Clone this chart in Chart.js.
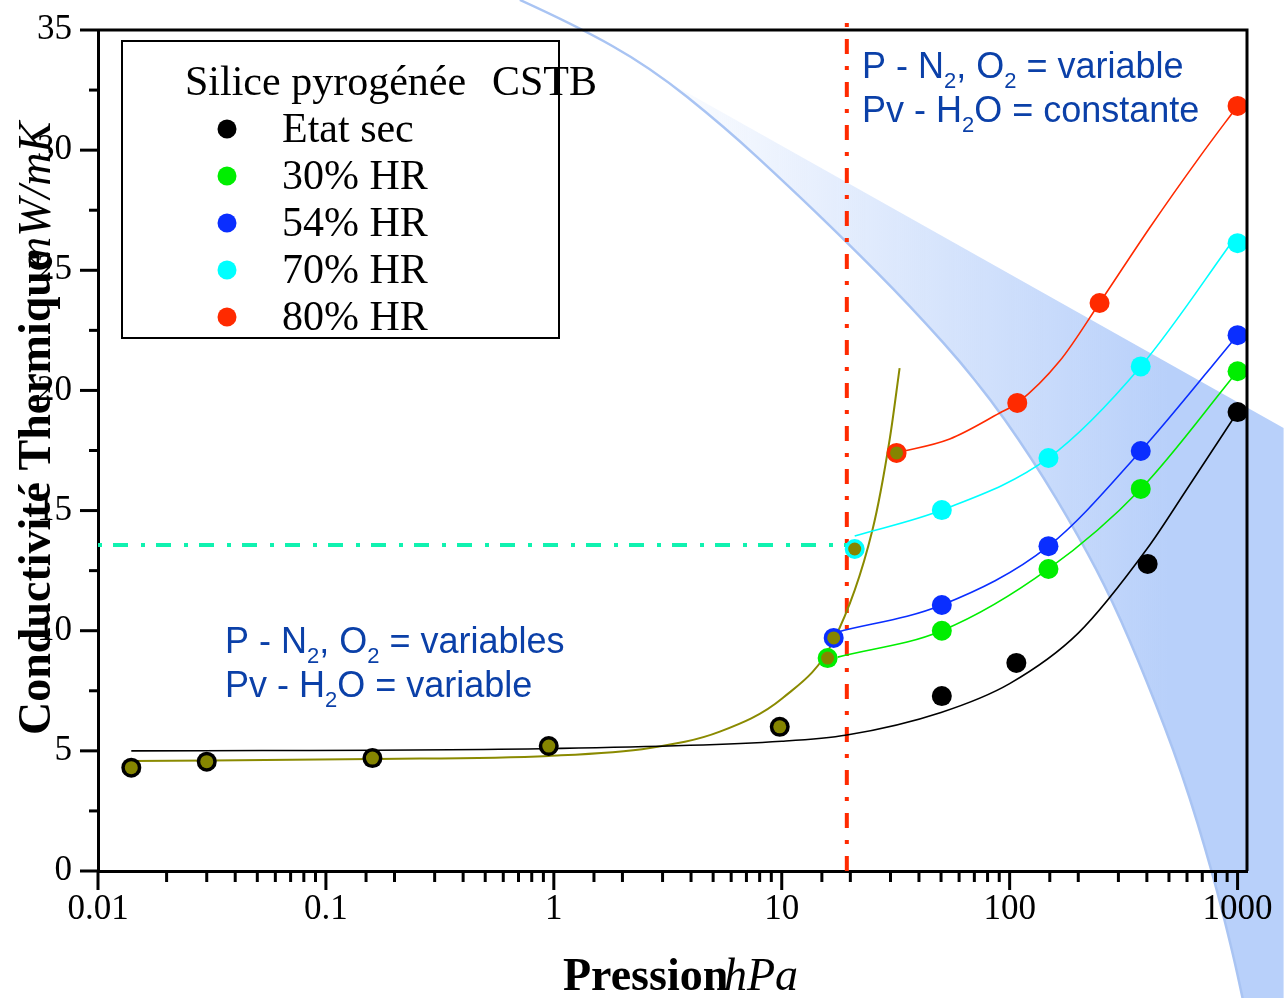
<!DOCTYPE html>
<html lang="fr">
<head>
<meta charset="UTF-8">
<title>Conductivité thermique - silice pyrogénée CSTB</title>
<script src="https://cdn.jsdelivr.net/npm/chart.js"></script>
<style>
	body { margin: 0; background: #fff; }
	canvas { display: block; }
</style>
</head>
<body>
<canvas id="graphique" width="1284" height="998"></canvas>
<script>
	const secX = [0.014, 0.03, 0.16, 0.95, 9.8, 50.4, 107, 403, 1000];
	const secY = [4.3, 4.55, 4.7, 5.2, 6.0, 7.28, 8.66, 12.78, 19.1];
	const hr30X = [15.9, 50.4, 148, 376, 1000];
	const hr30Y = [8.86, 10.0, 12.57, 15.9, 20.8];
	const hr54X = [16.9, 50.4, 148, 376, 1000];
	const hr54Y = [9.7, 11.07, 13.52, 17.48, 22.3];
	const hr70X = [20.9, 50.4, 148, 376, 1000];
	const hr70Y = [13.4, 15.02, 17.19, 21.0, 26.13];
	const hr80X = [31.9, 108, 248, 1000];
	const hr80Y = [17.4, 19.48, 23.64, 31.84];
	// Pv - H2O variable (points olive)
	const pvX = [0.014, 0.03, 0.16, 0.95, 9.8, 15.9, 16.9, 20.9, 31.9];
	const pvY = [4.3, 4.55, 4.7, 5.2, 6.0, 8.86, 9.7, 13.4, 17.4];

	// courbes d'ajustement
	const fitSecX = [0.014, 1, 10, 19.3, 50, 100, 200, 400, 600, 1000];
	const fitSecY = [5.0, 5.1, 5.4, 5.66, 6.6, 7.8, 9.9, 13.4, 15.9, 19.1];
	const fitPvX = [0.014, 0.16, 0.95, 2.64, 5.35, 10.1, 16.9, 25.0, 29.8, 32.9];
	const fitPvY = [4.58, 4.66, 4.79, 5.12, 5.8, 7.2, 9.6, 14.19, 18.0, 20.93];
	const fit30X = [17.6, 50.4, 148, 376, 1000];
	const fit30Y = [8.9, 10.0, 12.57, 15.9, 20.8];
	const fit54X = [17.6, 50.4, 148, 376, 1000];
	const fit54Y = [9.95, 11.07, 13.52, 17.48, 22.3];
	const fit70X = [20.9, 50.4, 148, 376, 1000];
	const fit70Y = [13.94, 15.02, 17.19, 21.0, 26.5];
	const fit80X = [31.9, 54.6, 90.4, 108.4, 165.7, 248, 411, 681, 1000];
	const fit80Y = [17.4, 17.98, 19.06, 19.48, 21.22, 23.64, 26.76, 29.71, 31.84];

	// repères
	const seuilX = [19.3, 19.3];
	const seuilY = [0, 35.4];
	const niveauX = [0.01, 19.3];
	const niveauY = [13.57, 13.57];

	const xTicksMin = 0.01, xTicksMax = 1100;
	const yTicksMin = 0, yTicksMax = 35, yStep = 5;

	const legendeNoms = ['Etat sec', '30% HR', '54% HR', '70% HR', '80% HR'];
	const legendeCouleurs = ['#000000', '#00ee00', '#0a2eff', '#00ffff', '#ff2a00'];
	const olive = '#858500';

	// zone bleue (décor), en coordonnées des axes
	const bandeX = [0.7096, 1.236, 2.637, 5.62, 10.84, 18.9, 36.4, 71.7, 126, 203, 283, 399, 574, 777, 951, 1052];
	const bandeY = [36.25, 35.21, 33.46, 30.96, 28.46, 26.26, 23.55, 20.43, 17.15, 13.86, 11.24, 7.95, 4.04, -0.08, -3.37, -5.29];
	const bandeSommet = [2.384, 33.5];
	const bandeBord = [1592, 18.44];
	const bandeCoin = [1592, -5.29];

	function pts(xs, ys) {
		return xs.map((x, i) => ({ x: x, y: ys[i] }));
	}

	function courbeLisse(ctx, p) {
		ctx.moveTo(p[0][0], p[0][1]);
		for (var i = 1; i < p.length - 1; i++) {
			var mx = (p[i][0] + p[i + 1][0]) / 2, my = (p[i][1] + p[i + 1][1]) / 2;
			ctx.quadraticCurveTo(p[i][0], p[i][1], mx, my);
		}
		ctx.lineTo(p[p.length - 1][0], p[p.length - 1][1]);
	}

	const fondBleu = {
		id: 'fondBleu',
		beforeDraw(chart) {
			const ctx = chart.ctx, sx = chart.scales.x, sy = chart.scales.y;
			const px = (v) => sx.getPixelForValue(v), py = (v) => sy.getPixelForValue(v);
			const courbe = bandeX.map((x, i) => [px(x), py(bandeY[i])]);
			const sommet = [px(bandeSommet[0]), py(bandeSommet[1])];
			const bord = [px(bandeBord[0]), py(bandeBord[1])];
			const coin = [px(bandeCoin[0]), py(bandeCoin[1])];

			ctx.save();
			var grad = ctx.createLinearGradient(sommet[0], 0, bord[0], 0);
			grad.addColorStop(0, 'rgba(184,208,250,0)');
			grad.addColorStop(0.82, 'rgba(184,208,250,1)');
			grad.addColorStop(1, 'rgba(184,208,250,1)');
			ctx.fillStyle = grad;
			ctx.beginPath();
			ctx.moveTo(sommet[0], sommet[1]);
			ctx.lineTo(bord[0], bord[1]);
			ctx.lineTo(coin[0], coin[1]);
			var retour = courbe.slice(2).reverse();
			retour.forEach(p => ctx.lineTo(p[0], p[1]));
			ctx.closePath();
			ctx.fill();

			ctx.strokeStyle = '#a9c4f3';
			ctx.lineWidth = 2.5;
			ctx.beginPath();
			courbeLisse(ctx, courbe);
			ctx.stroke();
			ctx.restore();
		}
	};

	function texteIndice(ctx, x, y, morceaux, taille) {
		morceaux.forEach(m => {
			if (m[1]) {
				ctx.font = Math.round(taille * 0.6) + 'px "Liberation Sans"';
				ctx.fillText(m[0], x, y + taille * 0.28);
			} else {
				ctx.font = taille + 'px "Liberation Sans"';
				ctx.fillText(m[0], x, y);
			}
			x += ctx.measureText(m[0]).width;
		});
	}

	const habillage = {
		id: 'habillage',
		afterDraw(chart) {
			const ctx = chart.ctx, a = chart.chartArea;
			const sx = chart.scales.x, sy = chart.scales.y;
			ctx.save();

			// cadre haut et droit
			ctx.strokeStyle = '#000';
			ctx.lineWidth = 3;
			ctx.beginPath();
			ctx.moveTo(a.left, a.top);
			ctx.lineTo(a.right, a.top);
			ctx.lineTo(a.right, a.bottom);
			ctx.stroke();

			// graduations
			sx.ticks.forEach(t => {
				if (t.value > 1000) return;
				var lg = Math.log10(t.value);
				var majeur = Math.abs(lg - Math.round(lg)) < 1e-6;
				var x = sx.getPixelForValue(t.value);
				ctx.lineWidth = 3;
				ctx.beginPath();
				ctx.moveTo(x, a.bottom);
				ctx.lineTo(x, a.bottom + (majeur ? 19 : 11));
				ctx.stroke();
			});
			for (var v = yTicksMin; v <= yTicksMax; v += yStep / 2) {
				var y = sy.getPixelForValue(v);
				var maj = v % yStep === 0;
				ctx.lineWidth = 3;
				ctx.beginPath();
				ctx.moveTo(a.left, y);
				ctx.lineTo(a.left - (maj ? 18 : 9), y);
				ctx.stroke();
			}

			// titres des axes
			ctx.fillStyle = '#000';
			ctx.textBaseline = 'alphabetic';
			ctx.textAlign = 'left';
			ctx.font = 'bold 46px "Liberation Serif"';
			ctx.fillText('Pression', 563, 990);
			ctx.font = 'italic 46px "Liberation Serif"';
			ctx.fillText('hPa', 724, 990);

			ctx.save();
			ctx.translate(50, 735);
			ctx.rotate(-Math.PI / 2);
			ctx.font = 'bold 46px "Liberation Serif"';
			ctx.fillText('Conductivité Thermique', 0, 0);
			ctx.font = 'italic 46px "Liberation Serif"';
			ctx.fillText('mW/mK', 465, 0);
			ctx.restore();

			// légende
			ctx.lineWidth = 2;
			ctx.strokeRect(122, 41, 437, 297);
			ctx.font = '42px "Liberation Serif"';
			ctx.fillText('Silice pyrogénée', 185, 95);
			ctx.fillText('CSTB', 492, 95);
			legendeNoms.forEach((nom, i) => {
				var yy = 129 + i * 47;
				ctx.fillStyle = legendeCouleurs[i];
				ctx.beginPath();
				ctx.arc(227, yy, 9.5, 0, Math.PI * 2);
				ctx.fill();
				ctx.fillStyle = '#000';
				ctx.fillText(nom, 282, yy + 13);
			});

			// annotations
			ctx.fillStyle = '#0b40a8';
			texteIndice(ctx, 862, 78, [['P - N', 0], ['2', 1], [', O', 0], ['2', 1], [' = variable', 0]], 36);
			texteIndice(ctx, 862, 122, [['Pv - H', 0], ['2', 1], ['O = constante', 0]], 36);
			texteIndice(ctx, 225, 653, [['P - N', 0], ['2', 1], [', O', 0], ['2', 1], [' = variables', 0]], 36);
			texteIndice(ctx, 225, 697, [['Pv - H', 0], ['2', 1], ['O = variable', 0]], 36);

			ctx.restore();
		}
	};

	function marqueurs(xs, ys, couleur, rayon, ordre) {
		return {
			data: pts(xs, ys),
			showLine: false,
			pointBackgroundColor: couleur,
			pointBorderWidth: 0,
			pointRadius: rayon,
			order: ordre
		};
	}

	function courbe(xs, ys, couleur, epaisseur, ordre) {
		return {
			data: pts(xs, ys),
			showLine: true,
			borderColor: couleur,
			borderWidth: epaisseur,
			pointRadius: 0,
			cubicInterpolationMode: 'monotone',
			order: ordre
		};
	}

	const ctx = document.getElementById('graphique').getContext('2d');
	const graphique = new Chart(ctx, {
		type: 'scatter',
		data: {
			datasets: [
				marqueurs(pvX, pvY, olive, 6.5, 0),
				marqueurs(secX, secY, legendeCouleurs[0], 10, 1),
				marqueurs(hr30X, hr30Y, legendeCouleurs[1], 10, 2),
				marqueurs(hr54X, hr54Y, legendeCouleurs[2], 10, 3),
				marqueurs(hr70X, hr70Y, legendeCouleurs[3], 10, 4),
				marqueurs(hr80X, hr80Y, legendeCouleurs[4], 10, 5),
				courbe(fitSecX, fitSecY, '#000', 1.6, 6),
				courbe(fit30X, fit30Y, legendeCouleurs[1], 1.6, 6),
				courbe(fit54X, fit54Y, legendeCouleurs[2], 1.6, 6),
				courbe(fit70X, fit70Y, legendeCouleurs[3], 1.6, 6),
				courbe(fit80X, fit80Y, legendeCouleurs[4], 1.6, 6),
				courbe(fitPvX, fitPvY, '#8a8a00', 2, 7),
				{
					data: pts(seuilX, seuilY),
					showLine: true,
					borderColor: '#ff2a00',
					borderWidth: 4,
					borderDash: [15, 12, 4, 12],
					pointRadius: 0,
					clip: false,
					order: 8
				},
				{
					data: pts(niveauX, niveauY),
					showLine: true,
					borderColor: '#10f2b0',
					borderWidth: 4,
					borderDash: [4, 11, 15, 13],
					pointRadius: 0,
					clip: false,
					order: 9
				}
			]
		},
		options: {
			responsive: false,
			animation: false,
			events: [],
			layout: { padding: { top: 30, right: 37, left: 0, bottom: 0 } },
			plugins: {
				legend: { display: false },
				tooltip: { enabled: false }
			},
			scales: {
				x: {
					type: 'logarithmic',
					position: 'bottom',
					min: xTicksMin,
					max: xTicksMax,
					border: { display: true, color: '#000', width: 3 },
					grid: { display: false, drawTicks: false },
					ticks: {
						autoSkip: false,
						maxRotation: 0,
						padding: 18,
						color: '#000',
						font: { family: 'Liberation Serif', size: 35 },
						callback: function (v) {
							var lg = Math.log10(v);
							if (v > 1000 || Math.abs(lg - Math.round(lg)) > 1e-6) return '';
							return String(Number(v.toPrecision(1)));
						}
					},
					afterFit: function (s) { s.height = 127; }
				},
				y: {
					min: yTicksMin,
					max: yTicksMax,
					border: { display: true, color: '#000', width: 3 },
					grid: { display: false, drawTicks: false },
					ticks: {
						stepSize: yStep,
						padding: 26,
						color: '#000',
						font: { family: 'Liberation Serif', size: 35 }
					},
					afterFit: function (s) {
						s.width = 98;
						s.paddingTop = 0;
						s.paddingBottom = 0;
					}
				}
			}
		},
		plugins: [fondBleu, habillage]
	});
</script>
</body>
</html>
